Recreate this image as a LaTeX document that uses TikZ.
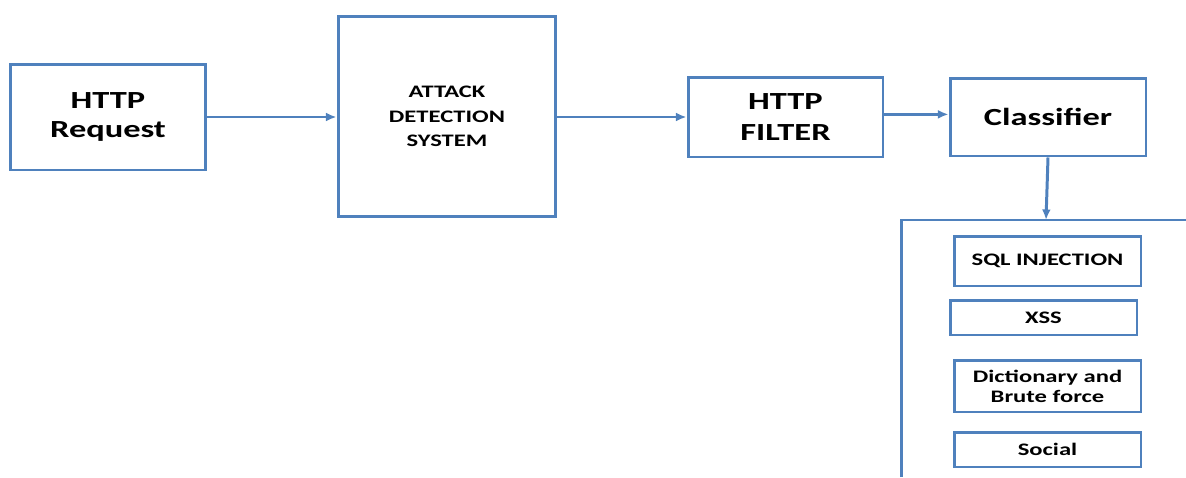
\documentclass[tikz,border=0pt]{standalone}
\usepackage{fontspec}
\setmainfont[FakeStretch=1.4]{Carlito}
\usetikzlibrary{arrows.meta}
\usetikzlibrary{positioning}
\definecolor{boxblue}{HTML}{4F81BD}

\tikzset{
	block/.style={draw=boxblue, line width=1.7pt, align=center, font=\bfseries, inner sep=2pt},
	flow/.style={draw=boxblue, line width=1.7pt, -{Latex[length=6pt,width=5pt]}}
}

\begin{document}
\begin{tikzpicture}[x=0.02cm, y=-0.02cm]
		\useasboundingbox (0,0) rectangle (1186,477);
		% main chain
		\node[block, minimum width=3.92cm, minimum height=2.12cm, font=\fontsize{14}{17}\selectfont\bfseries] (req) at (108,117) {HTTP\\Request};
		\node[block, minimum width=4.36cm, minimum height=4.02cm, font=\fontsize{10}{14}\selectfont\bfseries] (ads) at (447,116.5) {ATTACK\\DETECTION\\SYSTEM};
		\node[block, minimum width=3.9cm, minimum height=1.6cm, font=\fontsize{14}{17.5}\selectfont\bfseries] (filter) at (785.5,117) {HTTP\\FILTER};
		\node[block, minimum width=3.92cm, minimum height=1.56cm, font=\fontsize{14}{16}\selectfont\bfseries] (clf) at (1048,117) {Classifier};
		
		\draw[flow] (req.east) -- (ads.west |- req.east);
		\draw[flow] (ads.east |- req.east) -- (filter.west);
		\draw[flow] ([yshift=1.5pt]filter.east) -- ([yshift=1.5pt]clf.west);
		
		% attack classes
		\coordinate (pnl) at (901,220);
		\coordinate (pnltop) at (1046,220);
		\draw[draw=boxblue, line width=1.7pt] (pnl |- 0,477) -- (pnl) -- (1186,220);
		\draw[flow] (clf.south) -- (pnltop);
		
		\node[block, minimum width=3.74cm, minimum height=1cm, font=\fontsize{10}{12}\selectfont\bfseries] (sql) at (1047.5,261) {SQL INJECTION};
		\node[block, minimum width=3.74cm, minimum height=0.7cm, font=\fontsize{10}{12}\selectfont\bfseries] (xss) at (1043.5,317.5) {XSS};
		\node[block, minimum width=3.74cm, minimum height=1.04cm, font=\fontsize{10}{11.5}\selectfont\bfseries] (dict) at (1047.5,386) {Dictionary and\\Brute force};
		\node[block, minimum width=3.74cm, minimum height=0.7cm, font=\fontsize{10}{12}\selectfont\bfseries] (social) at (1047.5,449.5) {Social};
	\end{tikzpicture}
\end{document}
